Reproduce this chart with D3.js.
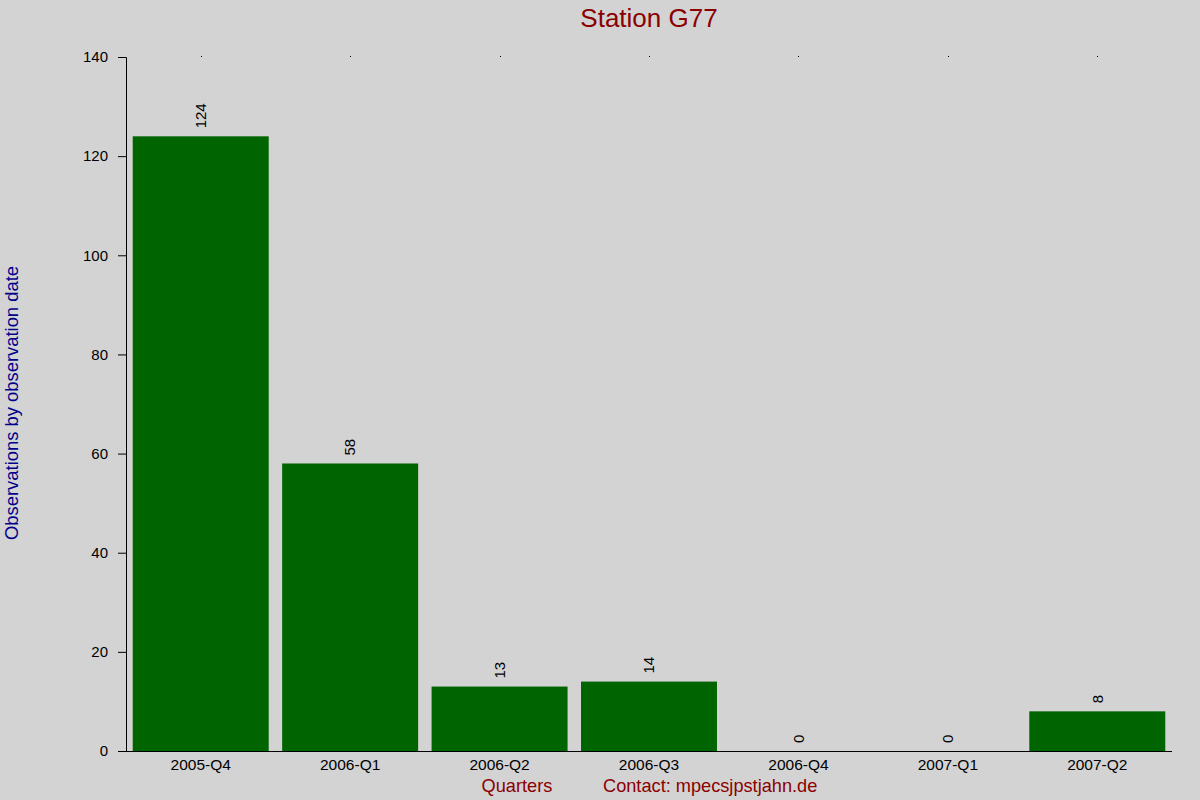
<!DOCTYPE html>
<html>
<head>
<meta charset="utf-8">
<script src="https://cdn.jsdelivr.net/npm/d3@7"></script>
<style>
	html, body { margin: 0; padding: 0; background: #d3d3d3; }
	svg { display: block; font-family: "Liberation Sans", Arial, sans-serif; }
</style>
</head>
<body>
<svg id="chart" width="1200" height="800"></svg>
<script>
// Data
var quarters = ["2005-Q4", "2006-Q1", "2006-Q2", "2006-Q3", "2006-Q4", "2007-Q1", "2007-Q2"];
var observations = [124, 58, 13, 14, 0, 0, 8];
var yTicks = [0, 20, 40, 60, 80, 100, 120, 140];

var svg = d3.select("#chart");

svg.append("rect")
	.attr("width", 1200)
	.attr("height", 800)
	.attr("fill", "#d3d3d3");

var x = d3.scaleBand()
	.domain(quarters)
	.range([126, 1172])
	.paddingInner(0.09)
	.paddingOuter(0.045);

var y = d3.scaleLinear()
	.domain([0, 140])
	.range([751, 57]);

// Bars
svg.append("g")
	.selectAll("rect")
	.data(quarters)
	.enter().append("rect")
	.attr("x", function (d) { return x(d); })
	.attr("y", function (d, i) { return y(observations[i]); })
	.attr("width", x.bandwidth())
	.attr("height", function (d, i) { return y(0) - y(observations[i]); })
	.attr("fill", "#006400");

// Value labels
svg.append("g")
	.selectAll("text")
	.data(quarters)
	.enter().append("text")
	.attr("transform", function (d, i) {
		return "translate(" + (x(d) + x.bandwidth() / 2) + "," + (y(observations[i]) - 8) + ") rotate(-90)";
	})
	.attr("dy", "0.35em")
	.attr("font-size", 15)
	.attr("fill", "#000")
	.text(function (d, i) { return observations[i]; });

// Y axis
var yAxis = svg.append("g")
	.attr("transform", "translate(126,0)")
	.call(d3.axisLeft(y).tickValues(yTicks).tickSize(8).tickPadding(10));
yAxis.selectAll("text").attr("font-size", 15).attr("fill", "#000").attr("font-family", "Liberation Sans, Arial, sans-serif");
yAxis.selectAll("line").attr("stroke", "#000");
yAxis.select(".domain").attr("stroke", "#000").attr("d", "M-8,57.5H0.5V751.5H-8");

// X axis
var xAxis = svg.append("g")
	.attr("transform", "translate(0,751)")
	.call(d3.axisBottom(x).tickSize(0).tickPadding(8));
xAxis.selectAll("text").attr("font-size", 15.5).attr("fill", "#000").attr("font-family", "Liberation Sans, Arial, sans-serif");
xAxis.select(".domain").attr("stroke", "#000").attr("d", "M126,0.5H1172");

// Top dots
svg.append("g")
	.selectAll("rect")
	.data(quarters)
	.enter().append("rect")
	.attr("x", function (d) { return Math.round(x(d) + x.bandwidth() / 2); })
	.attr("y", 56)
	.attr("width", 1)
	.attr("height", 1)
	.attr("fill", "#000");

// Title
svg.append("text")
	.attr("x", 649)
	.attr("y", 27)
	.attr("text-anchor", "middle")
	.attr("font-size", 26)
	.attr("fill", "#8b0000")
	.text("Station G77");

// Y label
svg.append("text")
	.attr("transform", "translate(18,403) rotate(-90)")
	.attr("text-anchor", "middle")
	.attr("font-size", 18.4)
	.attr("fill", "#00008b")
	.text("Observations by observation date");

// X label and contact
svg.append("text")
	.attr("x", 517)
	.attr("y", 792)
	.attr("text-anchor", "middle")
	.attr("font-size", 18.2)
	.attr("fill", "#8b0000")
	.text("Quarters");

svg.append("text")
	.attr("x", 603)
	.attr("y", 792)
	.attr("font-size", 18.2)
	.attr("fill", "#8b0000")
	.text("Contact: mpecsjpstjahn.de");
</script>
</body>
</html>
